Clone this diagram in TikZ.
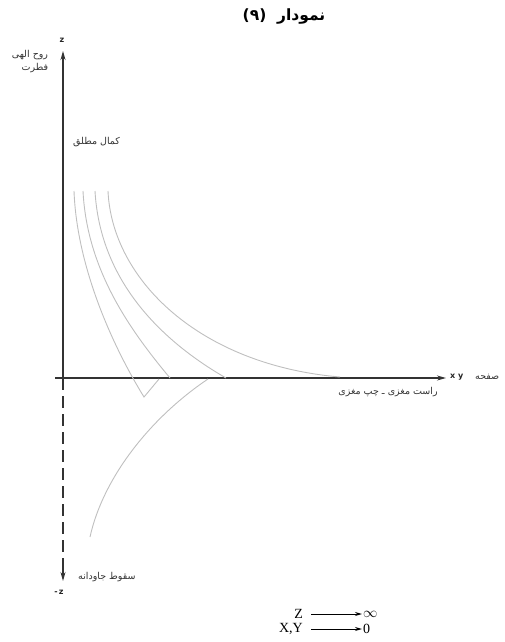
\documentclass[tikz,border=0pt]{standalone}
\usepackage{fontspec}
\setmainfont{Liberation Serif}
\newfontfamily\arabicfont[Script=Arabic]{DejaVu Sans}
\newfontfamily\latinsans{DejaVu Sans}
\TeXXeTstate=1
\usetikzlibrary{arrows.meta}
\begin{document}
\begin{tikzpicture}[x=1pt,y=-1pt,
  axisline/.style={draw=black!80, line width=1.2pt},
  axisarrow/.style={axisline, -{Stealth[length=9pt,width=5pt]}},
  dashaxis/.style={axisline, dash pattern=on 12pt off 6pt},
  curveline/.style={draw=black!25, line width=0.9pt},
  arlab/.style={font=\arabicfont\fontsize{9.5}{10}\selectfont, inner sep=0pt, text=black!80},
  axlab/.style={font=\latinsans\bfseries\fontsize{8}{9}\selectfont, inner sep=0pt, text=black!85},
  formula/.style={font=\fontsize{14}{14}\selectfont, inner sep=0pt},
  fmarrow/.style={draw=black, line width=1pt, -{Stealth[length=7pt,width=4pt]}}
]
\useasboundingbox (0,0) rectangle (504,642);

% title
\node[inner sep=0pt] (title) at (284,17) {\arabicfont\bfseries\fontsize{15.5}{16}\selectfont (۹)\ \ نمودار};

% axes
\coordinate (O) at (63,378);
\coordinate (ztop) at (63,51);
\coordinate (zbot) at (63,581);
\coordinate (xstart) at (55,378);
\coordinate (xend) at (446,378);
\coordinate (dashend) at (63,568);
\draw[axisarrow] (O) -- (ztop);
\draw[dashaxis] (O) -- (dashend);
\draw[axisarrow] (63,566) -- (zbot);
\draw[axisarrow] (xstart) -- (xend);

% axis labels
\node[axlab] (zlab) at (62,40) {z};
\node[axlab] (mzlab) at (59,592) {-\,z};
\node[axlab, anchor=west] (xylab) at (450,377) {x\,\,y};
\node[arlab, anchor=west] (safhe) at (475,377) {صفحه};
\node[arlab] (rast) at (388,392) {\beginR راست مغزی ـ چپ مغزی\endR};
\node[arlab] (ruh) at (30,55) {\beginR روح الهی\endR};
\node[arlab] (fetrat) at (35,68) {فطرت};
\node[arlab, anchor=west] (kamal) at (73,142) {\beginR کمال مطلق\endR};
\node[arlab, anchor=west] (soqut) at (78,577) {\beginR سقوط جاودانه\endR};

% curves
\draw[curveline] (74,191) .. controls (77,270) and (115,350) .. (144,397) -- (159,379);
\draw[curveline] (83,191) .. controls (87,270) and (130,330) .. (170,378);
\draw[curveline] (95,191) .. controls (100,280) and (160,340) .. (226,378);
\draw[curveline] (108,191) .. controls (112,280) and (200,365) .. (340,377);
\draw[curveline] (208,379) .. controls (150,418) and (103,478) .. (90,537);

% formula
\node[formula, anchor=east] (Z) at (303,614) {Z};
\node[formula, anchor=west] (inf) at (363,614) {$\infty$};
\node[formula, anchor=east] (XY) at (303,629) {X,Y};
\node[formula, anchor=west] (zero) at (363,629) {0};
\draw[fmarrow] ([xshift=8pt]Z.east) -- ([xshift=-1pt]inf.west);
\draw[fmarrow] ([xshift=8pt]XY.east) -- ([xshift=-1pt]zero.west);
\end{tikzpicture}
\end{document}
